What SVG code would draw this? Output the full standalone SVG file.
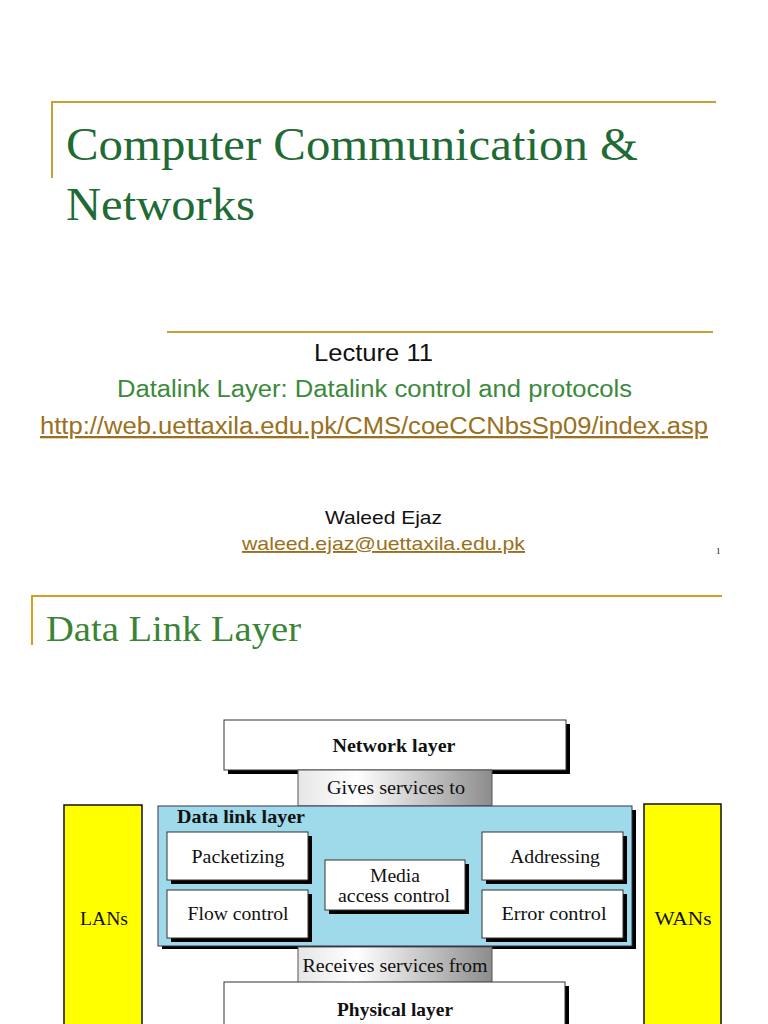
<svg xmlns="http://www.w3.org/2000/svg" width="768" height="1024" viewBox="0 0 768 1024">
<defs>
<linearGradient id="grad" x1="0" y1="0" x2="1" y2="0">
<stop offset="0" stop-color="#e6e6e6"/>
<stop offset="0.3" stop-color="#ffffff"/>
<stop offset="1" stop-color="#8c8c8c"/>
</linearGradient>
<style>
.gold{stroke:#c9a032;stroke-width:2;fill:none}
.serif{font-family:"Liberation Serif","Times New Roman",serif}
.sans{font-family:"Liberation Sans",Arial,sans-serif}
.shadow{fill:#000}
.box{fill:#fff;stroke:#333;stroke-width:1}
.lbl{font-family:"Liberation Serif","Times New Roman",serif;font-size:19px;fill:#111;text-anchor:middle}
.start{text-anchor:start}
.bold{font-weight:bold}
.svc{fill:url(#grad);stroke:#555;stroke-width:1}
.side{fill:#ffff00;stroke:#111;stroke-width:1.5}
</style>
</defs>
<rect width="768" height="1024" fill="#fff"/>

<g id="slide1">
<path class="gold" d="M52 102H716M52 101V178"/>
<text class="serif" x="66" y="160" font-size="46" fill="#1f6b35" textLength="572" lengthAdjust="spacingAndGlyphs">Computer Communication &amp;</text>
<text class="serif" x="66" y="220" font-size="46" fill="#1f6b35" textLength="189" lengthAdjust="spacingAndGlyphs">Networks</text>
<path class="gold" d="M167 332H713" stroke-width="1.5"/>
<text class="sans" x="314" y="361" font-size="24" fill="#111" textLength="119" lengthAdjust="spacingAndGlyphs">Lecture 11</text>
<text class="sans" x="117" y="397" font-size="23" fill="#3b8a3b" textLength="515" lengthAdjust="spacingAndGlyphs">Datalink Layer: Datalink control and protocols</text>
<text class="sans" x="40" y="434" font-size="23" fill="#9a7020" textLength="668" lengthAdjust="spacingAndGlyphs" text-decoration="underline">http://web.uettaxila.edu.pk/CMS/coeCCNbsSp09/index.asp</text>
<text class="sans" x="325" y="524" font-size="19" fill="#111" textLength="117" lengthAdjust="spacingAndGlyphs">Waleed Ejaz</text>
<text class="sans" x="242" y="550" font-size="19" fill="#9a7020" textLength="283" lengthAdjust="spacingAndGlyphs" text-decoration="underline">waleed.ejaz@uettaxila.edu.pk</text>
<text class="serif" x="716" y="554" font-size="9" fill="#111">1</text>
</g>

<g id="slide2-title">
<path d="M32 596H722M32 595V645" stroke="#d4a020" stroke-width="2" fill="none"/>
<text class="serif" x="46" y="641" font-size="35" fill="#3a8535" textLength="255" lengthAdjust="spacingAndGlyphs">Data Link Layer</text>
</g>

<g id="connectors"/>

<g id="lans">
<rect class="side" x="64" y="805" width="78" height="230"/>
<text class="lbl" x="104" y="925" font-size="17" textLength="48" lengthAdjust="spacingAndGlyphs">LANs</text>
</g>

<g id="wans">
<rect class="side" x="644" y="804" width="77" height="230"/>
<text class="lbl" x="683" y="925" font-size="17" textLength="57" lengthAdjust="spacingAndGlyphs">WANs</text>
</g>

<g id="network-layer">
<rect class="shadow" x="228" y="724" width="342" height="50"/>
<rect class="box" x="224" y="720" width="342" height="50"/>
<text class="lbl bold" x="394" y="752" textLength="123" lengthAdjust="spacingAndGlyphs">Network layer</text>
</g>

<g id="gives-services">
<rect class="svc" x="298" y="770" width="194" height="36"/>
<text class="lbl" x="396" y="794" textLength="138" lengthAdjust="spacingAndGlyphs">Gives services to</text>
</g>

<g id="data-link-layer">
<rect class="shadow" x="162" y="810" width="474" height="139"/>
<rect x="158" y="806" width="474" height="140" fill="#9fdaea" stroke="#335" stroke-width="1"/>
<text class="lbl bold start" x="177" y="823" textLength="128" lengthAdjust="spacingAndGlyphs">Data link layer</text>
</g>

<g id="packetizing">
<rect class="shadow" x="171" y="836" width="141" height="48"/>
<rect class="box" x="167" y="832" width="141" height="48"/>
<text class="lbl" x="238" y="863" textLength="93" lengthAdjust="spacingAndGlyphs">Packetizing</text>
</g>

<g id="flow-control">
<rect class="shadow" x="171" y="894" width="141" height="48"/>
<rect class="box" x="167" y="890" width="141" height="48"/>
<text class="lbl" x="238" y="920" textLength="101" lengthAdjust="spacingAndGlyphs">Flow control</text>
</g>

<g id="media-access-control">
<rect class="shadow" x="329" y="864" width="140" height="50"/>
<rect class="box" x="325" y="860" width="140" height="50"/>
<text class="lbl" x="395" y="882" textLength="50" lengthAdjust="spacingAndGlyphs">Media</text>
<text class="lbl" x="394" y="902" textLength="112" lengthAdjust="spacingAndGlyphs">access control</text>
</g>

<g id="addressing">
<rect class="shadow" x="486" y="836" width="141" height="48"/>
<rect class="box" x="482" y="832" width="141" height="48"/>
<text class="lbl" x="555" y="863" textLength="90" lengthAdjust="spacingAndGlyphs">Addressing</text>
</g>

<g id="error-control">
<rect class="shadow" x="486" y="894" width="141" height="48"/>
<rect class="box" x="482" y="890" width="141" height="48"/>
<text class="lbl" x="554" y="920" textLength="105" lengthAdjust="spacingAndGlyphs">Error control</text>
</g>

<g id="receives-services">
<rect class="svc" x="298" y="947" width="194" height="36"/>
<text class="lbl" x="395" y="972" textLength="185" lengthAdjust="spacingAndGlyphs">Receives services from</text>
</g>

<g id="physical-layer">
<rect class="shadow" x="228" y="986" width="341" height="50"/>
<rect class="box" x="224" y="982" width="341" height="50"/>
<text class="lbl bold" x="395" y="1016" textLength="116" lengthAdjust="spacingAndGlyphs">Physical layer</text>
</g>
</svg>
